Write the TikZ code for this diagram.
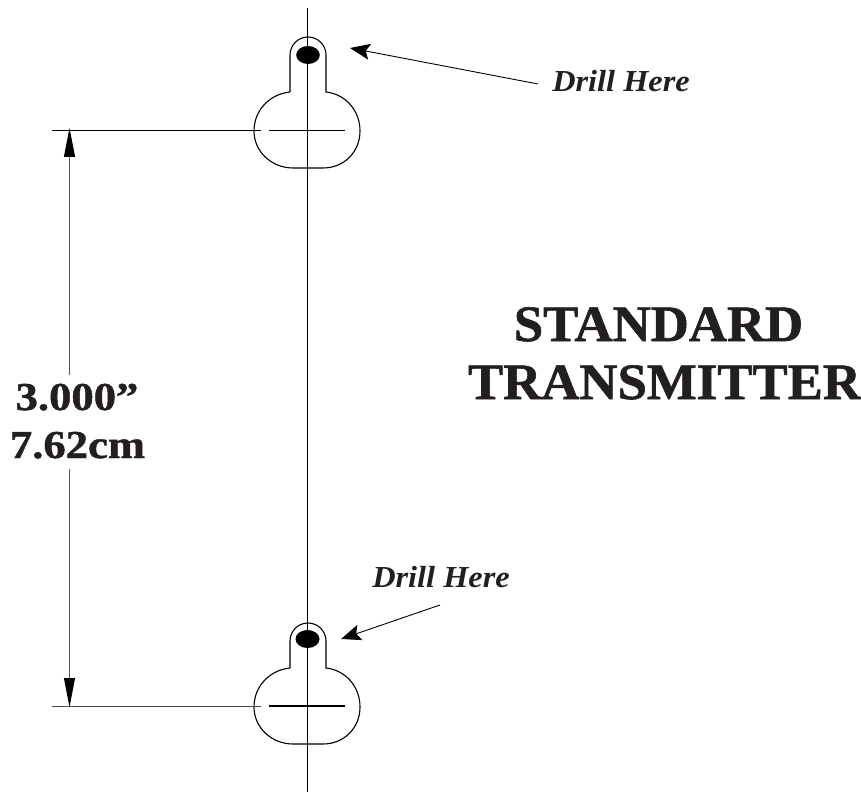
\documentclass[tikz,border=0pt]{standalone}
\usepackage{fontspec}
\setmainfont{Liberation Serif}
\newfontfamily\bigface[FakeBold=1.2,FakeStretch=1.035]{Liberation Serif}
\newfontfamily\dimface[FakeBold=1.2,FakeStretch=1.13]{Liberation Serif}
\newfontfamily\drillface[FakeStretch=1.06]{Liberation Serif}
\usetikzlibrary{arrows.meta}
\definecolor{ink}{HTML}{231F20}
\tikzset{
  lbl/.style={inner sep=0pt,outer sep=0pt,text=ink,anchor=base},
  big/.style={lbl,font=\bigface\fontsize{51}{60}\selectfont\bfseries},
  dim/.style={lbl,font=\dimface\fontsize{39.5}{46}\selectfont\bfseries},
  drill/.style={lbl,font=\drillface\fontsize{30.5}{36}\selectfont\bfseries\itshape},
  thinline/.style={line width=0.9pt,black},
  keyhole/.style={line width=1.1pt,black},
  pointer/.style={line width=0.9pt,-{Stealth[length=20pt,width=16pt,inset=4pt]}},
  dimarrow/.style={line width=0.9pt,draw=black!65,-{Triangle[length=29pt,width=11pt,fill=black,color=black]}},
  hole/.style={fill=black,draw=none}
}
\begin{document}
\begin{tikzpicture}[x=1pt,y=-1pt]
\useasboundingbox (0,0) rectangle (861,794);
% coordinates
\coordinate (axisT) at (307.7,8);
\coordinate (axisB) at (307.7,792);
\coordinate (extTL) at (52,130);
\coordinate (extTR) at (261,130);
\coordinate (extBL) at (52,706);
\coordinate (extBR) at (261,706);
\coordinate (markTL) at (269,130);
\coordinate (markTR) at (345,130);
\coordinate (markBL) at (269,706);
\coordinate (markBR) at (345,706);
\coordinate (dimT) at (69.5,128);
\coordinate (dimB) at (69.5,707);
\coordinate (dimBreakT) at (69.5,375);
\coordinate (dimBreakB) at (69.5,469);
\coordinate (p1tail) at (538,84);
\coordinate (p1tip) at (350,48);
\coordinate (p2tail) at (440,605);
\coordinate (p2tip) at (341,639);
% keyholes
\draw[keyhole] (290,92) -- (290,55) arc[start angle=180,end angle=360,radius=18] -- (326,92)
  .. controls (345,94) and (360,110) .. (360,131)
  .. controls (360,152) and (344,168) .. (323,168)
  -- (293,168)
  .. controls (272,168) and (254,152) .. (254,131)
  .. controls (254,110) and (270,94) .. (290,92);
\draw[keyhole] (290,668) -- (290,641) arc[start angle=180,end angle=360,radius=18] -- (326,668)
  .. controls (345,670) and (360,686) .. (360,707)
  .. controls (360,728) and (344,744) .. (323,744)
  -- (293,744)
  .. controls (272,744) and (254,728) .. (254,707)
  .. controls (254,686) and (270,670) .. (290,668);
\fill[hole] (308,55) ellipse[x radius=11.8,y radius=9];
\fill[hole] (307.5,639) ellipse[x radius=12,y radius=9];
% centre lines
\draw[thinline] (axisT) -- (axisB);
\draw[thinline] (extTL) -- (extTR);
\draw[thinline,draw=black!70] (extBL) -- (extBR);
\draw[thinline] (markTL) -- (markTR);
\draw[line width=1.6pt,black] (markBL) -- (markBR);
% dimension
\draw[dimarrow] (dimBreakT) -- (dimT);
\draw[dimarrow] (dimBreakB) -- (dimB);
% pointers
\draw[pointer] (p1tail) -- (p1tip);
\draw[pointer] (p2tail) -- (p2tip);
% text
\node[drill] (d1) at (621,92) {Drill Here};
\node[drill] (d2) at (441,587) {Drill Here};
\node[big] (s1) at (658.5,341) {STANDARD};
\node[big] (s2) at (664.5,399) {TRANSMITTER};
\node[dim] (v1) at (77,410) {3.000”};
\node[dim] (v2) at (77.5,458) {7.62cm};
\end{tikzpicture}
\end{document}
